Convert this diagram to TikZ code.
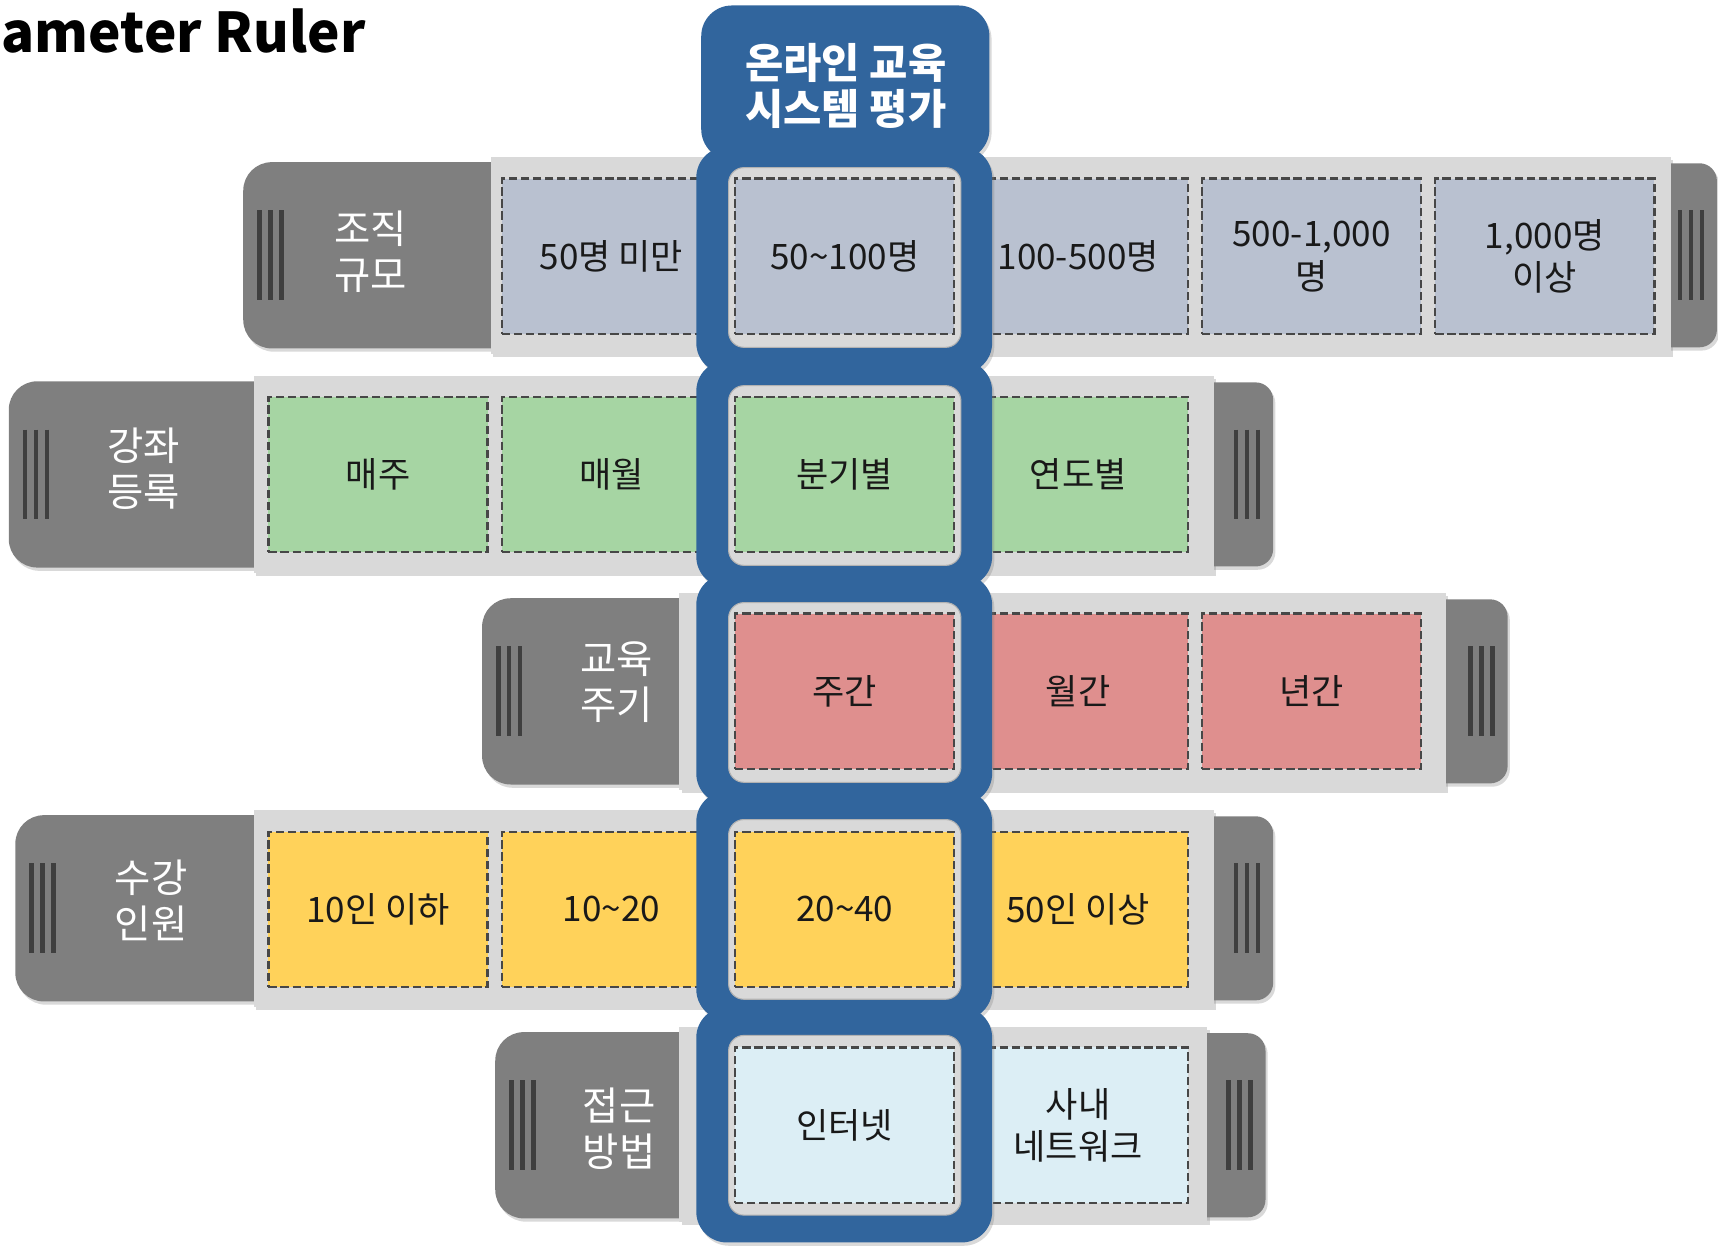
\documentclass[tikz,border=0pt]{standalone}
\usepackage{fontspec}
\newfontfamily\krfont{Noto Sans CJK KR}
\usetikzlibrary{shadows}

\definecolor{handlegray}{HTML}{7F7F7F}
\definecolor{gripgray}{HTML}{3F3F3F}
\definecolor{stripgray}{HTML}{D9D9D9}
\definecolor{ringblue}{HTML}{31659D}
\definecolor{dashgray}{HTML}{474747}
\definecolor{orgfill}{HTML}{B9C1D0}
\definecolor{regfill}{HTML}{A6D5A3}
\definecolor{cycfill}{HTML}{DF8F8E}
\definecolor{capfill}{HTML}{FFD25A}
\definecolor{accfill}{HTML}{DCEEF5}

\begin{document}
\begin{tikzpicture}[x=1pt,y=-1pt,
  shade/.style={drop shadow={shadow xshift=2pt,shadow yshift=-3pt,opacity=.3}},
  handle/.style={fill=handlegray,rounded corners=26pt,minimum height=170pt,inner sep=0pt,shade},
  rhandle/.style={fill=handlegray,rounded corners=16pt,minimum height=168pt,inner sep=0pt,shade},
  strip/.style={fill=stripgray,minimum height=180pt,inner sep=0pt,shade},
  grip/.style={draw=gripgray,line width=4pt},
  cell/.style={draw=dashgray,line width=2pt,dash pattern=on 7.5pt off 3.5pt,
               minimum width=200pt,minimum height=142pt,inner sep=0pt,align=center,
               text=black!90,font=\krfont\fontsize{32}{39}\selectfont},
  head/.style={align=center,text=white,font=\krfont\fontsize{36}{42}\selectfont},
  ring/.style={fill=ringblue,rounded corners=28pt,minimum width=270pt,inner sep=0pt,shade},
  window/.style={fill=stripgray,draw=black!30,line width=1pt,rounded corners=14pt,
                 minimum width=212pt,minimum height=164pt,inner sep=0pt}
]
\useasboundingbox (0,0) rectangle (1568,1137);

\node[anchor=base west,font=\krfont\bfseries\fontsize{50}{58}\selectfont] (ttl) at (-2,48) {ameter Ruler};

% row 1: organisation size
\node[handle,minimum width=258pt] (hOrg) at (351,233) {};
\node[rhandle,minimum width=77pt] (rOrg) at (1528.5,233) {};
\node[strip,minimum width=1077pt] (sOrg) at (986.5,233) {};
\node[cell,fill=orgfill] (org1) at (558,234) {50명 미만};
\node[cell,fill=orgfill] (org3) at (984,234) {100-500명};
\node[cell,fill=orgfill] (org4) at (1197,234) {500-1,000\\명};
\node[cell,fill=orgfill] (org5) at (1410,234) {1,000명\\이상};

% row 2: course registration
\node[handle,minimum width=262pt] (hReg) at (139,433) {};
\node[rhandle,minimum width=92pt] (rReg) at (1116,433) {};
\node[strip,minimum width=876pt] (sReg) at (670,433) {};
\node[cell,fill=regfill] (reg1) at (345,433) {매주};
\node[cell,fill=regfill] (reg2) at (558,433) {매월};
\node[cell,fill=regfill] (reg4) at (984,433) {연도별};

% row 3: training cycle
\node[handle,minimum width=240pt] (hCyc) at (560,631) {};
\node[rhandle,minimum width=96pt] (rCyc) at (1328,631) {};
\node[strip,minimum width=700pt] (sCyc) at (970,631) {};
\node[cell,fill=cycfill] (cyc2) at (984,631) {월간};
\node[cell,fill=cycfill] (cyc3) at (1197,631) {년간};

% row 4: class size
\node[handle,minimum width=256pt] (hCap) at (142,829) {};
\node[rhandle,minimum width=92pt] (rCap) at (1116,829) {};
\node[strip,minimum width=876pt] (sCap) at (670,829) {};
\node[cell,fill=capfill] (cap1) at (345,830) {10인 이하};
\node[cell,fill=capfill] (cap2) at (558,830) {10\textasciitilde20};
\node[cell,fill=capfill] (cap4) at (984,830) {50인 이상};

% row 5: access
\node[handle,minimum width=228pt] (hAcc) at (566,1027) {};
\node[rhandle,minimum width=95pt] (rAcc) at (1107.5,1027) {};
\node[strip,minimum width=482pt,minimum height=178pt] (sAcc) at (861,1026) {};
\node[cell,fill=accfill] (acc2) at (984,1027) {사내\\네트워크};

% grips
\foreach \h in {hOrg,hReg,hCyc,hCap,hAcc}
  \foreach \dx in {15,25,35}
    \draw[grip] ([xshift=\dx pt]\h.west) ++(0,-41) -- ++(0,82);
\foreach \h in {rOrg,rReg,rCyc,rCap,rAcc}
  \foreach \dx in {34,24,14}
    \draw[grip] ([xshift=-\dx pt]\h.east) ++(0,-41) -- ++(0,82);

% row labels
\node[head] (lOrg) at (338,230) {조직\\규모};
\node[head] (lReg) at (131,428) {강좌\\등록};
\node[head] (lCyc) at (563,623) {교육\\주기};
\node[head] (lCap) at (138,822) {수강\\인원};
\node[head] (lAcc) at (565,1030) {접근\\방법};

% selected column
\node[ring,minimum width=263pt,minimum height=141pt] (hd) at (771.5,75.5) {};
\node[ring,minimum height=207pt] (ring1) at (770.5,237.5) {};
\node[ring,minimum height=207pt] (ring2) at (770.5,432.5) {};
\node[ring,minimum height=210pt] (ring3) at (770.5,629) {};
\node[ring,minimum height=209pt] (ring4) at (770.5,826.5) {};
\node[ring,minimum height=215pt] (ring5) at (770.5,1026.5) {};
\node[align=center,text=white,font=\krfont\bfseries\fontsize{38}{42}\selectfont] (ttlk) at (772,78) {온라인 교육\\시스템 평가};

\node[window] (w1) at (771,235) {};
\node[window] (w2) at (771,434) {};
\node[window] (w3) at (771,632) {};
\node[window] (w4) at (771,830) {};
\node[window] (w5) at (771,1027) {};

\node[cell,fill=orgfill] (org2) at (771,234) {50\textasciitilde100명};
\node[cell,fill=regfill] (reg3) at (771,433) {분기별};
\node[cell,fill=cycfill] (cyc1) at (771,631) {주간};
\node[cell,fill=capfill] (cap3) at (771,830) {20\textasciitilde40};
\node[cell,fill=accfill] (acc1) at (771,1027) {인터넷};
\end{tikzpicture}
\end{document}
